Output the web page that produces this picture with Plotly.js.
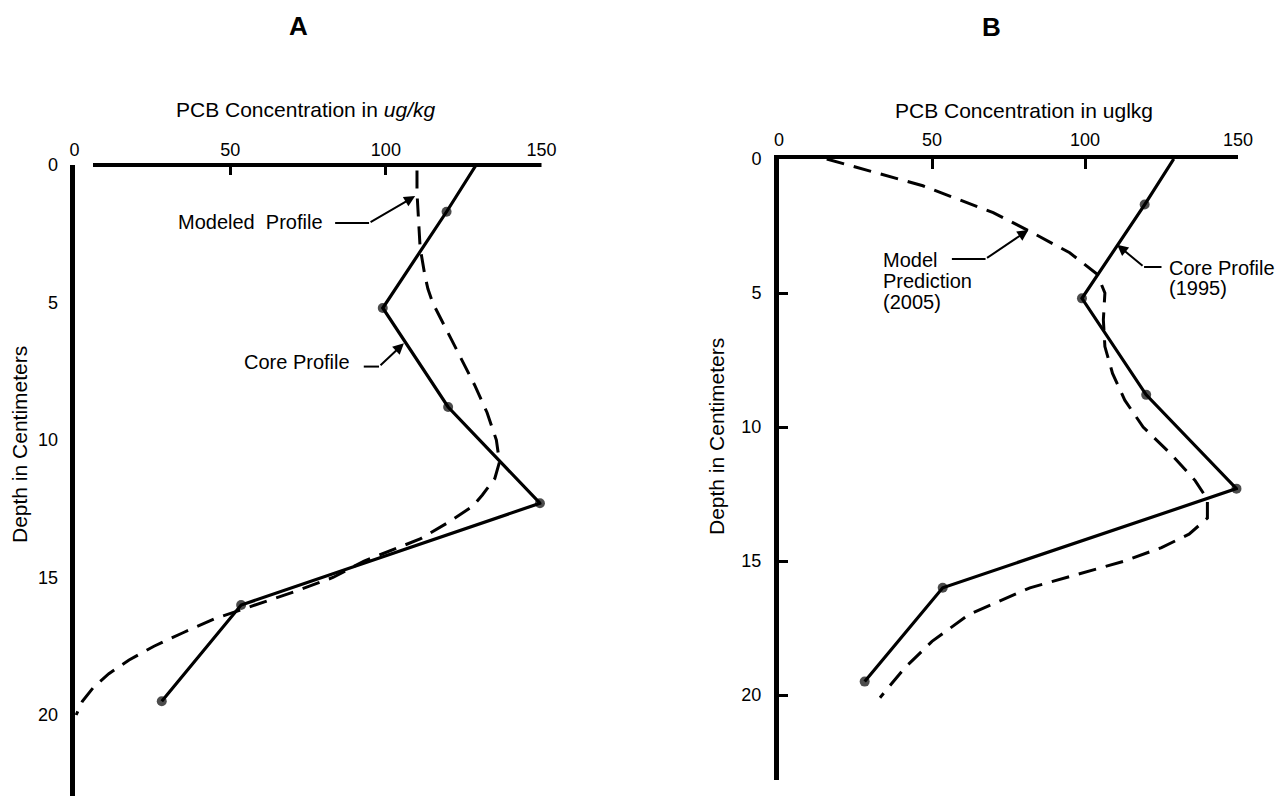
<!DOCTYPE html>
<html><head><meta charset="utf-8">
<script src="https://cdn.plot.ly/plotly-3.0.1.min.js"></script>
<style>html,body{margin:0;padding:0;background:#fff}#chart{width:1281px;height:796px}</style>
</head><body><div id="chart"></div>
<script>
// ---- data ----
const coreConc  = [129, 119.5, 99, 120, 149.5, 53.5, 28];
const coreDepth = [0, 1.7, 5.2, 8.8, 12.3, 16.0, 19.5];

const modelAConc  = [110, 110, 110.5, 111, 112.5, 113.5, 115, 119.5, 124, 128.5, 132.5, 135.5, 136.5, 135, 131, 128, 120, 111, 93, 83, 71, 58, 45, 35, 25.5, 17.5, 11, 6, 2.5, 0.5];
const modelADepth = [0.2, 1, 2, 3, 4, 4.5, 5, 6, 7, 8, 9, 10, 10.8, 11.4, 12, 12.4, 13, 13.6, 14.4, 15, 15.5, 16, 16.5, 17, 17.5, 18, 18.5, 19, 19.5, 20];

const modelBConc  = [15.6, 47, 70, 82, 95, 104, 106.5, 106, 106.5, 109, 113, 119, 128, 136, 140, 140, 134, 125, 113, 82, 62, 50, 41, 33];
const modelBDepth = [0, 1, 2, 2.7, 3.5, 4.3, 5, 6, 7, 8, 9, 10, 11, 12, 12.7, 13.4, 14, 14.5, 15, 16, 17, 18, 19, 20.1];

const xTickVals = [0, 50, 100, 150];
const xTickText = ['0', '50', '100', '150'];
const yTickVals = [0, 5, 10, 15, 20];
const yTickText = ['0', '5', '10', '15', '20'];

const panelLabels = ['A', 'B'];
const xTitleA = 'PCB Concentration in <i>ug/kg</i>';
const xTitleB = 'PCB Concentration in uglkg';
const yTitle = 'Depth in Centimeters';
const labelModeledA = 'Modeled  Profile';
const labelCoreA = 'Core Profile';
const labelModelB = ['Model', 'Prediction', '(2005)'];
const labelCoreB = ['Core Profile', '(1995)'];

// ---- layout geometry (pixels) ----
const W = 1281, H = 796;
const FONT = 'Liberation Sans, Arial, Helvetica, sans-serif';
const A = {left: 74.6, right: 541.5, top: 165, bottom: 796, pxPerCm: 27.5};
const B = {left: 779, right: 1238, top: 159, bottom: 780, pxPerCm: 26.8};
const px = v => v / W, py = v => 1 - v / H;

const markerSizes = coreDepth.map((d, i) => i === 0 ? 0 : 10);
const solid = {color: '#000', width: 3.2};
const dashed = {color: '#000', width: 3, dash: '18px,10px'};
const mk = {color: '#000', size: markerSizes, line: {width: 0}};

const traces = [
  {x: modelAConc, y: modelADepth, xaxis: 'x', yaxis: 'y', mode: 'lines', line: dashed, cliponaxis: false, hoverinfo: 'skip'},
  {x: coreConc, y: coreDepth, xaxis: 'x', yaxis: 'y', mode: 'lines+markers', line: solid, marker: mk, cliponaxis: false},
  {x: modelBConc, y: modelBDepth, xaxis: 'x2', yaxis: 'y2', mode: 'lines', line: dashed, cliponaxis: false, hoverinfo: 'skip'},
  {x: coreConc, y: coreDepth, xaxis: 'x2', yaxis: 'y2', mode: 'lines+markers', line: solid, marker: mk, cliponaxis: false}
];

const tickFont = {family: FONT, size: 18, color: '#000'};
function xAxis(P, showline, standoff) {
  return {
    domain: [px(P.left), px(P.right)], range: [0, 150], side: 'top',
    showgrid: false, zeroline: false, showline: showline, linecolor: '#000', linewidth: 4,
    tickmode: 'array', tickvals: xTickVals, ticktext: xTickText,
    ticks: 'inside', ticklen: 10, tickwidth: 3, tickcolor: '#000',
    tickfont: tickFont, ticklabelstandoff: standoff, fixedrange: true
  };
}
function yAxis(P, bottomPx, ticks, standoff, anchor) {
  return {
    domain: [py(bottomPx), py(P.top)], range: [(bottomPx - P.top) / P.pxPerCm, 0],
    anchor: anchor, showgrid: false, zeroline: false, showline: true, linecolor: '#000', linewidth: 5,
    tickmode: 'array', tickvals: yTickVals, ticktext: yTickText,
    ticks: ticks, ticklen: 9, tickwidth: 3, tickcolor: '#000',
    tickfont: tickFont, ticklabelstandoff: standoff, fixedrange: true
  };
}

const ann = [];
function txt(text, x, y, size, opts) {
  ann.push(Object.assign({text: text, x: x, y: y, xref: 'paper', yref: 'paper', showarrow: false,
    xanchor: 'center', yanchor: 'middle',
    font: {family: FONT, size: size, color: '#000'}}, opts || {}));
}
txt('<b>' + panelLabels[0] + '</b>', px(298), py(26), 26);
txt('<b>' + panelLabels[1] + '</b>', px(991), py(27), 26);
txt(xTitleA, px(305), py(110), 21);
txt(xTitleB, px(1024), py(111), 21);
txt(yTitle, px(20), py(445), 21, {textangle: -90});
txt(yTitle, px(716), py(436), 21, {textangle: -90});
txt(labelModeledA, px(250), py(222), 20);
txt(labelCoreA, px(297), py(362), 20);
labelModelB.forEach((s, i) => txt(s, px(881), py(260 + i * 21), 20, {xanchor: 'left'}));
labelCoreB.forEach((s, i) => txt(s, px(1167), py(268 + i * 20), 20, {xanchor: 'left'}));

function arrow(xr, yr, hx, hy, tx, ty) {
  ann.push({text: '', x: hx, y: hy, ax: tx, ay: ty, xref: xr, yref: yr, axref: xr, ayref: yr,
    showarrow: true, arrowhead: 2, arrowsize: 1.1, arrowwidth: 2, arrowcolor: '#000', standoff: 0, startstandoff: 0});
}
arrow('x', 'y', 109.4, 1.13, 94.6, 2.11);
arrow('x', 'y', 105.8, 6.48, 97.8, 7.33);
arrow('x2', 'y2', 81.5, 2.65, 67.5, 3.73);
arrow('x2', 'y2', 110.5, 3.2, 119.3, 4.03);

const seg = (xr, yr, x0, x1, y) => ({type: 'line', xref: xr, yref: yr, x0: x0, x1: x1, y0: y, y1: y, line: {color: '#000', width: 2}});
const shapes = [
  seg('x', 'y', 83.7, 94.6, 2.11),
  seg('x', 'y', 92.9, 97.8, 7.33),
  seg('x2', 'y2', 56.5, 67.5, 3.73),
  seg('x2', 'y2', 119.3, 125, 4.03),
  // panel A top axis line (starts a little right of the depth axis)
  {type: 'line', xref: 'paper', yref: 'paper', x0: px(93), x1: px(A.right), y0: py(A.top), y1: py(A.top), line: {color: '#000', width: 4}}
];

const layout = {
  width: W, height: H, margin: {l: 0, r: 0, t: 0, b: 0},
  paper_bgcolor: '#fff', plot_bgcolor: 'rgba(0,0,0,0)', showlegend: false,
  font: {family: FONT, color: '#000'},
  xaxis: Object.assign(xAxis(A, false, 4), {anchor: 'y'}),
  yaxis: yAxis(A, A.bottom, '', 8, 'x'),
  xaxis2: Object.assign(xAxis(B, true, 2), {anchor: 'y2'}),
  yaxis2: yAxis(B, B.bottom, 'inside', 9, 'x2'),
  annotations: ann, shapes: shapes
};

Plotly.newPlot('chart', traces, layout, {displayModeBar: false, staticPlot: true});
</script>
</body></html>
